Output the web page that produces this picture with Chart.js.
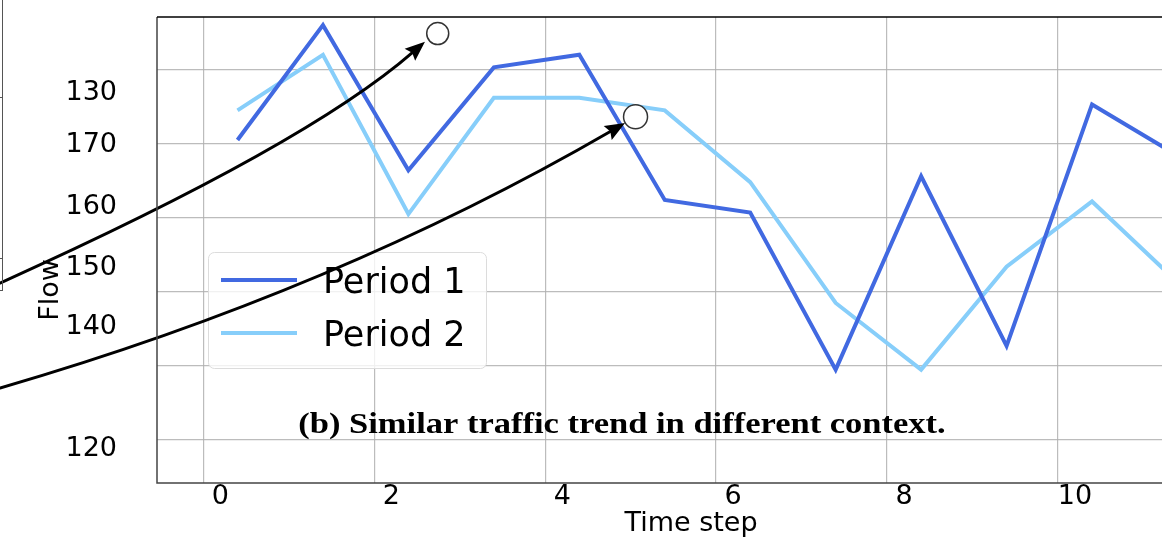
<!DOCTYPE html>
<html>
<head>
<meta charset="utf-8">
<title>Flow per time step</title>
<script src="https://cdn.jsdelivr.net/npm/chart.js@4.4.1/dist/chart.umd.min.js"></script>
<style>
  html, body { margin: 0; padding: 0; background: #fff; overflow: hidden; }
  #wrap { position: absolute; left: 0; top: 0; width: 1230px; height: 538px; }
</style>
</head>
<body>
<div id="wrap"><canvas id="flowChart"></canvas></div>
<script>
// series, one value per time step
const timeSteps = [0, 1, 2, 3, 4, 5, 6, 7, 8, 9, 10, 11];
const period1 = [160.5, 176.0, 156.4, 170.3, 172.0, 152.4, 150.7, 129.5, 155.6, 132.7, 165.3, 158.4];
const period2 = [164.5, 172.0, 150.5, 166.2, 166.2, 164.5, 154.8, 138.5, 129.5, 143.4, 152.2, 141.3];

// labels printed on the left axis and the values they sit at
const flowTickLabels = ['130', '170', '160', '150', '140', '120'];
const flowTickSpots = [166.87, 159.79, 151.51, 143.24, 135.25, 118.84];

const X_MIN = -0.942, X_MAX = 11.556;
const Y_MIN = 114.2, Y_MAX = 177.1;

const GRID = 'rgba(176,176,176,0.85)';
const AXIS_FONT = { family: '"DejaVu Sans", sans-serif', size: 27, lineHeight: 1 };

// two arrows pointing at the circled spots (data coordinates)
const pointers = [
  { from: [-2.779, 141.19], ctrl: [0.807, 159.82], tip: [2.194, 173.77], ring: [2.343, 174.86], r: 11 },
  { from: [-2.779, 127.02], ctrl: [1.153, 140.18], tip: [4.535, 162.79], ring: [4.658, 163.64], r: 12 }
];

function toPoints(values) {
  return timeSteps.map((t, k) => ({ x: t, y: values[k] }));
}

// keep every axis from reserving room for half-labels
function noEdgePadding(s) {
  s.paddingTop = 0;
  s.paddingBottom = 0;
  s.paddingLeft = 0;
  s.paddingRight = 0;
}

// frame, stray axis on the far left, "Flow" label and caption
const decorations = {
  id: 'decorations',
  beforeDatasetsDraw(chart) {
    const { ctx, chartArea: a } = chart;
    ctx.save();
    ctx.translate(a.left + 465, a.top + 416);
    ctx.scale(1.15, 1);
    ctx.fillStyle = '#000';
    ctx.font = 'bold 30px "Liberation Serif", "Times New Roman", serif';
    ctx.textAlign = 'center';
    ctx.textBaseline = 'alphabetic';
    ctx.fillText('(b) Similar traffic trend in different context.', 0, 0);
    ctx.restore();
  },
  afterDraw(chart) {
    const { ctx, chartArea: a } = chart;
    ctx.save();
    // spines
    ctx.lineWidth = 1.5;
    ctx.strokeStyle = '#444';
    ctx.beginPath();
    ctx.moveTo(a.left, a.top);
    ctx.lineTo(a.left, a.bottom);
    ctx.lineTo(a.right, a.bottom);
    ctx.stroke();
    ctx.strokeStyle = '#000';
    ctx.beginPath();
    ctx.moveTo(a.left, a.top);
    ctx.lineTo(a.right, a.top);
    ctx.stroke();

    // neighbouring axis fragment
    ctx.strokeStyle = '#555';
    ctx.lineWidth = 1;
    ctx.beginPath();
    ctx.moveTo(2.5, 0);
    ctx.lineTo(2.5, 290);
    [97, 258, 290].forEach(y => { ctx.moveTo(0, y + 0.5); ctx.lineTo(3, y + 0.5); });
    ctx.stroke();

    // y axis title
    ctx.translate(a.left - 99, a.top + 273);
    ctx.rotate(-Math.PI / 2);
    ctx.fillStyle = '#000';
    ctx.font = '27px "DejaVu Sans", sans-serif';
    ctx.textAlign = 'center';
    ctx.textBaseline = 'alphabetic';
    ctx.fillText('Flow', 0, 0);
    ctx.restore();
  }
};

// legend in a rounded box inside the plot
const boxLegend = {
  id: 'boxLegend',
  afterDatasetsDraw(chart) {
    const { ctx, chartArea: a } = chart;
    const x0 = a.left + 51, y0 = a.top + 235, w = 278, h = 116;
    ctx.save();
    ctx.beginPath();
    ctx.roundRect(x0 + 0.5, y0 + 0.5, w, h, 6);
    ctx.fillStyle = 'rgba(255,255,255,0.8)';
    ctx.fill();
    ctx.strokeStyle = '#dcdcdc';
    ctx.lineWidth = 1;
    ctx.stroke();
    ctx.font = '35px "DejaVu Sans", sans-serif';
    ctx.textAlign = 'left';
    ctx.textBaseline = 'alphabetic';
    chart.data.datasets.forEach((ds, k) => {
      const y = y0 + 28 + k * 53;
      ctx.strokeStyle = ds.borderColor;
      ctx.lineWidth = 4;
      ctx.beginPath();
      ctx.moveTo(x0 + 13, y);
      ctx.lineTo(x0 + 89, y);
      ctx.stroke();
      ctx.fillStyle = '#000';
      ctx.fillText(ds.label, x0 + 115, y + 13);
    });
    ctx.restore();
  }
};

// curved arrows ending at small rings
const arrows = {
  id: 'arrows',
  afterDatasetsDraw(chart) {
    const { ctx } = chart;
    const sx = chart.scales.x, sy = chart.scales.y;
    const px = p => [sx.getPixelForValue(p[0]), sy.getPixelForValue(p[1])];
    ctx.save();
    pointers.forEach(pt => {
      const s = px(pt.from), c = px(pt.ctrl), t = px(pt.tip), r = px(pt.ring);
      const ang = Math.atan2(t[1] - c[1], t[0] - c[0]);
      const len = 20, half = 8;
      const bx = t[0] - len * Math.cos(ang), by = t[1] - len * Math.sin(ang);
      ctx.strokeStyle = '#000';
      ctx.lineWidth = 3;
      ctx.lineCap = 'round';
      ctx.beginPath();
      ctx.moveTo(s[0], s[1]);
      ctx.quadraticCurveTo(c[0], c[1], bx + 4 * Math.cos(ang), by + 4 * Math.sin(ang));
      ctx.stroke();
      ctx.fillStyle = '#000';
      ctx.beginPath();
      ctx.moveTo(t[0], t[1]);
      ctx.lineTo(bx - half * Math.sin(ang), by + half * Math.cos(ang));
      ctx.lineTo(bx + 3 * Math.cos(ang), by + 3 * Math.sin(ang));
      ctx.lineTo(bx + half * Math.sin(ang), by - half * Math.cos(ang));
      ctx.closePath();
      ctx.fill();
      ctx.beginPath();
      ctx.arc(r[0], r[1], pt.r, 0, Math.PI * 2);
      ctx.fillStyle = '#fff';
      ctx.fill();
      ctx.strokeStyle = '#333';
      ctx.lineWidth = 1.5;
      ctx.stroke();
    });
    ctx.restore();
  }
};

const ctx = document.getElementById('flowChart').getContext('2d');

new Chart(ctx, {
  type: 'line',
  data: {
    datasets: [
      {
        label: 'Period 1',
        data: toPoints(period1),
        borderColor: '#4169E1',
        borderWidth: 4,
        borderJoinStyle: 'miter',
        pointRadius: 0,
        tension: 0,
        fill: false
      },
      {
        label: 'Period 2',
        data: toPoints(period2),
        borderColor: '#87CEFA',
        borderWidth: 4,
        borderJoinStyle: 'miter',
        pointRadius: 0,
        tension: 0,
        fill: false
      }
    ]
  },
  options: {
    responsive: true,
    maintainAspectRatio: false,
    animation: false,
    clip: false,
    layout: { autoPadding: false, padding: { top: 17, right: 5, left: 0, bottom: 0 } },
    plugins: {
      legend: { display: false },
      tooltip: { enabled: false }
    },
    scales: {
      x: { type: 'linear', display: false, min: X_MIN, max: X_MAX },
      xGrid: {
        type: 'linear',
        position: 'bottom',
        min: X_MIN + 0.4,
        max: X_MAX + 0.4,
        ticks: { display: false, stepSize: 2, includeBounds: false },
        grid: { color: GRID, lineWidth: 1.2, drawTicks: false },
        border: { display: false },
        afterFit: s => { noEdgePadding(s); s.height = 0; }
      },
      xTicks: {
        type: 'linear',
        position: 'bottom',
        min: X_MIN + 0.2,
        max: X_MAX + 0.2,
        ticks: { stepSize: 2, includeBounds: false, padding: 0, color: '#000', font: AXIS_FONT, maxRotation: 0 },
        grid: { display: false, drawTicks: false },
        border: { display: false },
        title: { display: true, text: 'Time step', color: '#000', font: AXIS_FONT, padding: { top: 0, bottom: 1 } },
        afterFit: s => { noEdgePadding(s); s.height = 55; }
      },
      y: {
        type: 'linear',
        min: Y_MIN,
        max: Y_MAX,
        ticks: { display: false, stepSize: 10, includeBounds: false },
        grid: { color: GRID, lineWidth: 1.2, drawTicks: false },
        border: { display: false },
        afterFit: s => { noEdgePadding(s); s.width = 0; }
      },
      yOld: {
        type: 'linear',
        position: 'left',
        min: Y_MIN,
        max: Y_MAX,
        afterBuildTicks: s => { s.ticks = flowTickSpots.map(v => ({ value: v })); },
        ticks: { callback: (v, i) => flowTickLabels[i], padding: 40, color: '#000', font: AXIS_FONT },
        grid: { display: false, drawTicks: false },
        border: { display: false },
        afterFit: s => { noEdgePadding(s); s.width = 157; }
      }
    }
  },
  plugins: [decorations, boxLegend, arrows]
});
</script>
</body>
</html>
